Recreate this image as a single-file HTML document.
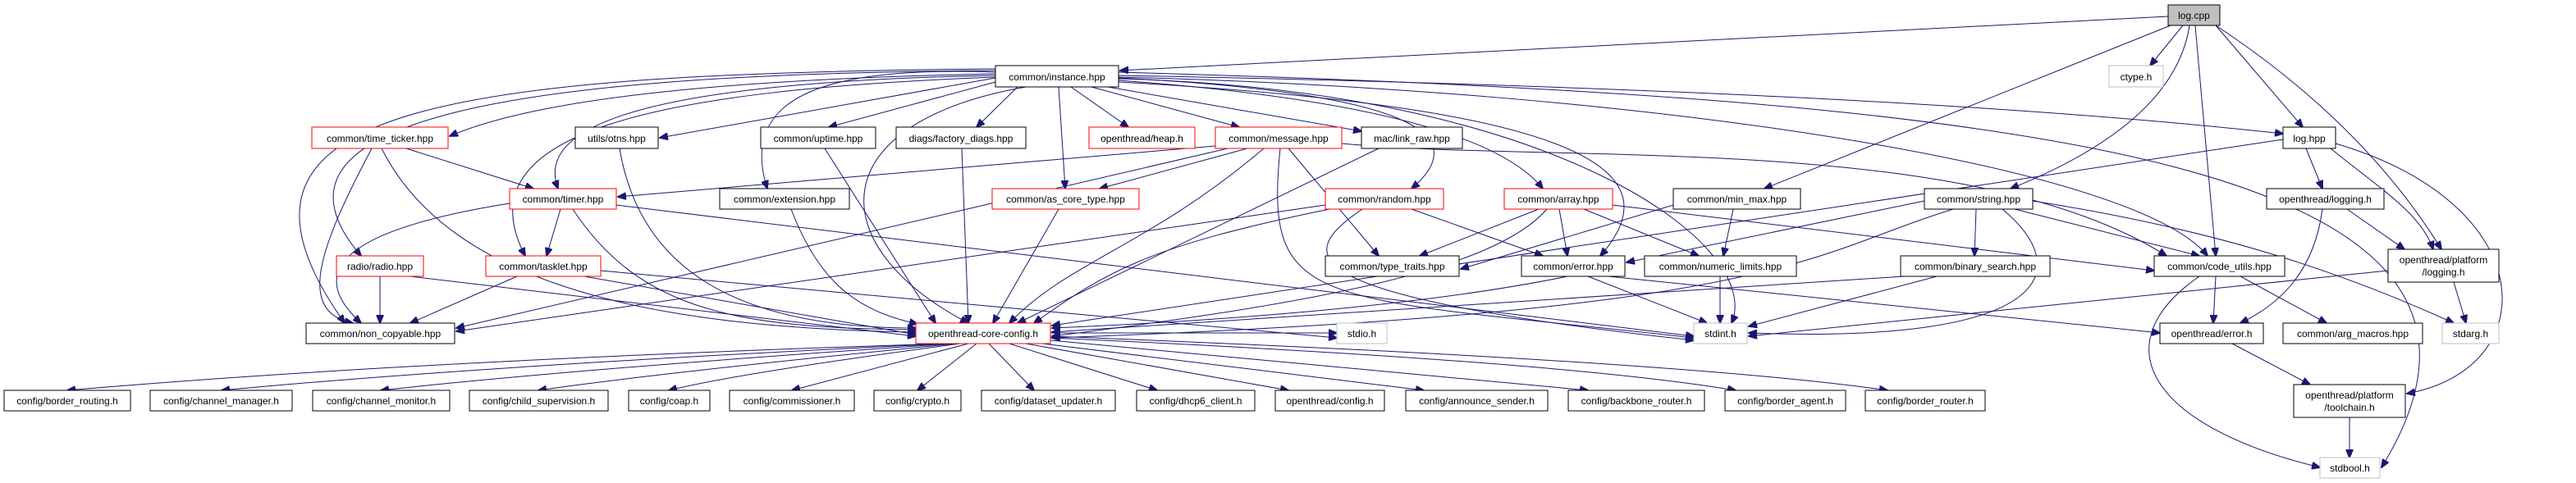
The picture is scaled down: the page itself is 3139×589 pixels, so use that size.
<!DOCTYPE html>
<html><head><meta charset="utf-8"><style>
html,body{margin:0;padding:0;background:#fff;}
svg{display:block;}
text{font-family:"Liberation Sans",sans-serif;font-size:12px;fill:#000;}
.n{fill:#fff;stroke:#000;stroke-width:1}
.r{fill:#fff;stroke:#ff0000;stroke-width:1}
.g{fill:#fff;stroke:#bfbfbf;stroke-width:1}
path{fill:none;stroke:#191970;stroke-width:1}
</style></head><body>
<svg width="3139" height="589" viewBox="0 0 3139 589" xmlns="http://www.w3.org/2000/svg">
<defs><marker id="a" markerWidth="11" markerHeight="9" refX="10" refY="4.5" orient="auto" markerUnits="userSpaceOnUse"><polygon points="0,0 11,4.5 0,9" fill="#191970" stroke="#191970"/></marker></defs>
<g marker-end="url(#a)">
<path d="M2642,20 L1365,86"/>
<path d="M2660,31 L2620,80"/>
<path d="M2700,31 L2806,155"/>
<path d="M2645,31 L2150,230"/>
<path d="M2668,31 Q2650,150 2450,230"/>
<path d="M2675,31 L2700,312"/>
<path d="M2700,31 Q2880,150 2975,304"/>
<path d="M1213,90 Q700,100 548,166"/>
<path d="M1213,95 L804,168"/>
<path d="M1213,100 L1010,155"/>
<path d="M1240,106 L1190,155"/>
<path d="M1305,106 L1375,155"/>
<path d="M1330,106 L1510,155"/>
<path d="M1350,106 L1659,160"/>
<path d="M1290,106 L1298,230"/>
<path d="M1363,95 Q1850,120 1720,230"/>
<path d="M1363,98 Q1800,130 1880,230"/>
<path d="M1363,100 C1900,130 2050,200 1950,312"/>
<path d="M1363,92 Q2300,110 2782,163"/>
<path d="M1363,96 C1900,110 2150,300 2110,394"/>
<path d="M1363,94 C2000,110 2600,200 2690,312"/>
<path d="M1363,88 C2500,120 3130,200 2902,570"/>
<path d="M1213,88 C1000,80 900,120 935,230"/>
<path d="M1213,92 C800,100 650,150 680,230"/>
<path d="M1213,94 C800,110 560,160 640,312"/>
<path d="M1213,86 C600,90 300,150 440,312"/>
<path d="M1213,84 C500,90 240,140 420,394"/>
<path d="M1250,106 C1000,150 1000,300 1180,394"/>
<path d="M495,181 L650,230"/>
<path d="M453,181 C390,300 360,380 430,394"/>
<path d="M465,181 C550,350 800,400 1116,405"/>
<path d="M755,181 C780,330 900,400 1116,400"/>
<path d="M1005,181 L1140,394"/>
<path d="M1172,181 L1180,394"/>
<path d="M964,255 C1000,350 1050,380 1118,395"/>
<path d="M683,255 L666,312"/>
<path d="M621,248 C420,280 370,330 440,394"/>
<path d="M698,255 C780,380 900,400 1116,402"/>
<path d="M751,250 L2064,410"/>
<path d="M630,337 L500,394"/>
<path d="M712,337 L1116,408"/>
<path d="M732,330 L1629,412"/>
<path d="M463,337 L463,394"/>
<path d="M500,337 L1116,410"/>
<path d="M1481,178 L753,240"/>
<path d="M1520,181 L1340,230"/>
<path d="M1540,181 C1400,300 1300,320 1230,394"/>
<path d="M1496,181 L556,400"/>
<path d="M1570,181 L1680,312"/>
<path d="M1560,181 C1540,380 1600,360 2064,412"/>
<path d="M1635,175 C1900,200 2400,160 2640,312"/>
<path d="M1680,181 L1240,394"/>
<path d="M1290,255 L1210,394"/>
<path d="M1615,250 L556,404"/>
<path d="M1620,255 C1400,300 1350,330 1260,394"/>
<path d="M1660,255 C1580,310 1560,360 2064,415"/>
<path d="M1720,255 L1880,312"/>
<path d="M1875,255 L1730,312"/>
<path d="M1900,255 L1910,312"/>
<path d="M1930,255 L2070,312"/>
<path d="M1885,255 C1820,330 1600,370 1282,410"/>
<path d="M1965,250 L2625,330"/>
<path d="M2039,250 L1780,328"/>
<path d="M2112,255 L2100,312"/>
<path d="M2345,245 L1982,320"/>
<path d="M2408,255 L2406,312"/>
<path d="M2455,255 L2680,312"/>
<path d="M2380,255 C2200,310 2180,380 1282,412"/>
<path d="M2440,255 C2530,330 2500,420 2131,406"/>
<path d="M2477,245 C2700,280 2850,330 2990,394"/>
<path d="M1910,337 C1700,380 1400,395 1282,400"/>
<path d="M1935,337 L2080,394"/>
<path d="M1960,337 L2632,406"/>
<path d="M2096,337 L2096,394"/>
<path d="M2320,337 L1282,405"/>
<path d="M2360,337 L2131,398"/>
<path d="M2700,337 L2697,394"/>
<path d="M2730,337 L2835,394"/>
<path d="M2680,337 C2560,420 2620,520 2827,570"/>
<path d="M2810,181 L2830,230"/>
<path d="M2840,181 C2900,230 2950,260 2965,304"/>
<path d="M2846,175 C3100,250 3100,450 2933,480"/>
<path d="M2782,170 L1282,397"/>
<path d="M2860,255 L2930,304"/>
<path d="M2830,255 C2820,330 2780,370 2730,394"/>
<path d="M2990,344 L3005,394"/>
<path d="M2910,330 L2131,410"/>
<path d="M2720,419 L2815,469"/>
<path d="M2863,509 L2863,558"/>
<path d="M1280,406 L1629,406"/>
<path d="M1150,419 Q500,440 82,476"/>
<path d="M1155,419 Q600,445 270,476"/>
<path d="M1160,419 Q700,450 464,476"/>
<path d="M1165,419 Q800,455 656,476"/>
<path d="M1170,419 Q900,455 815,476"/>
<path d="M1180,419 L965,476"/>
<path d="M1190,419 L1118,476"/>
<path d="M1205,419 L1260,476"/>
<path d="M1230,419 L1410,476"/>
<path d="M1250,419 L1570,476"/>
<path d="M1270,419 L1735,476"/>
<path d="M1280,415 L1935,476"/>
<path d="M1280,412 Q1900,440 2115,476"/>
<path d="M1280,410 Q2050,440 2300,476"/>
</g>
<g>
<rect x="2642" y="6" width="63" height="25" fill="#bfbfbf" stroke="#000"/>
<rect class="g" x="2570" y="80" width="66" height="26"/>
<rect class="n" x="1213" y="80" width="150" height="26"/>
<rect class="r" x="380" y="155" width="166" height="26"/>
<rect class="n" x="701" y="155" width="101" height="26"/>
<rect class="n" x="927" y="155" width="140" height="26"/>
<rect class="n" x="1092" y="155" width="158" height="26"/>
<rect class="r" x="1327" y="155" width="129" height="26"/>
<rect class="r" x="1481" y="155" width="154" height="26"/>
<rect class="n" x="1659" y="155" width="123" height="26"/>
<rect class="n" x="2782" y="155" width="64" height="26"/>
<rect class="r" x="621" y="230" width="130" height="25"/>
<rect class="n" x="877" y="230" width="158" height="25"/>
<rect class="r" x="1209" y="230" width="179" height="25"/>
<rect class="r" x="1615" y="230" width="144" height="25"/>
<rect class="r" x="1833" y="230" width="132" height="25"/>
<rect class="n" x="2039" y="230" width="155" height="25"/>
<rect class="n" x="2345" y="230" width="132" height="25"/>
<rect class="n" x="2762" y="230" width="143" height="25"/>
<rect class="r" x="410" y="312" width="106" height="25"/>
<rect class="r" x="592" y="312" width="140" height="25"/>
<rect class="n" x="1615" y="312" width="163" height="25"/>
<rect class="n" x="1854" y="312" width="126" height="25"/>
<rect class="n" x="2004" y="312" width="185" height="25"/>
<rect class="n" x="2316" y="312" width="182" height="25"/>
<rect class="n" x="2625" y="312" width="159" height="25"/>
<rect class="n" x="2910" y="304" width="135" height="40"/>
<rect class="n" x="373" y="394" width="181" height="25"/>
<rect class="r" x="1116" y="394" width="164" height="25"/>
<rect class="g" x="1629" y="394" width="61" height="25"/>
<rect class="g" x="2064" y="394" width="65" height="25"/>
<rect class="n" x="2632" y="394" width="126" height="25"/>
<rect class="n" x="2782" y="394" width="170" height="25"/>
<rect class="g" x="2976" y="394" width="69" height="25"/>
<rect class="n" x="5" y="476" width="154" height="25"/>
<rect class="n" x="183" y="476" width="173" height="25"/>
<rect class="n" x="381" y="476" width="167" height="25"/>
<rect class="n" x="572" y="476" width="169" height="25"/>
<rect class="n" x="766" y="476" width="99" height="25"/>
<rect class="n" x="889" y="476" width="152" height="25"/>
<rect class="n" x="1065" y="476" width="106" height="25"/>
<rect class="n" x="1196" y="476" width="163" height="25"/>
<rect class="n" x="1385" y="476" width="144" height="25"/>
<rect class="n" x="1554" y="476" width="133" height="25"/>
<rect class="n" x="1713" y="476" width="173" height="25"/>
<rect class="n" x="1911" y="476" width="166" height="25"/>
<rect class="n" x="2102" y="476" width="147" height="25"/>
<rect class="n" x="2273" y="476" width="146" height="25"/>
<rect class="n" x="2795" y="469" width="136" height="40"/>
<rect class="g" x="2827" y="558" width="73" height="25"/>
</g>
<g text-anchor="middle" transform="translate(0,1)">
<text x="2673.5" y="22">log.cpp</text>
<text x="2603" y="97">ctype.h</text>
<text x="1288" y="97">common/instance.hpp</text>
<text x="463" y="172">common/time_ticker.hpp</text>
<text x="751.5" y="172">utils/otns.hpp</text>
<text x="997" y="172">common/uptime.hpp</text>
<text x="1171" y="172">diags/factory_diags.hpp</text>
<text x="1391.5" y="172">openthread/heap.h</text>
<text x="1558" y="172">common/message.hpp</text>
<text x="1720.5" y="172">mac/link_raw.hpp</text>
<text x="2814" y="172">log.hpp</text>
<text x="686" y="246">common/timer.hpp</text>
<text x="956" y="246">common/extension.hpp</text>
<text x="1298.5" y="246">common/as_core_type.hpp</text>
<text x="1687" y="246">common/random.hpp</text>
<text x="1899" y="246">common/array.hpp</text>
<text x="2116.5" y="246">common/min_max.hpp</text>
<text x="2411" y="246">common/string.hpp</text>
<text x="2833.5" y="246">openthread/logging.h</text>
<text x="463" y="328">radio/radio.hpp</text>
<text x="662" y="328">common/tasklet.hpp</text>
<text x="1696.5" y="328">common/type_traits.hpp</text>
<text x="1917" y="328">common/error.hpp</text>
<text x="2096.5" y="328">common/numeric_limits.hpp</text>
<text x="2407" y="328">common/binary_search.hpp</text>
<text x="2704.5" y="328">common/code_utils.hpp</text>
<text x="2977.5" y="320">openthread/platform</text><text x="2977.5" y="335">/logging.h</text>
<text x="463.5" y="410">common/non_copyable.hpp</text>
<text x="1198" y="410">openthread-core-config.h</text>
<text x="1659.5" y="410">stdio.h</text>
<text x="2096.5" y="410">stdint.h</text>
<text x="2695" y="410">openthread/error.h</text>
<text x="2867" y="410">common/arg_macros.hpp</text>
<text x="3010.5" y="410">stdarg.h</text>
<text x="82" y="492">config/border_routing.h</text>
<text x="269.5" y="492">config/channel_manager.h</text>
<text x="464.5" y="492">config/channel_monitor.h</text>
<text x="656.5" y="492">config/child_supervision.h</text>
<text x="815.5" y="492">config/coap.h</text>
<text x="965" y="492">config/commissioner.h</text>
<text x="1118" y="492">config/crypto.h</text>
<text x="1277.5" y="492">config/dataset_updater.h</text>
<text x="1457" y="492">config/dhcp6_client.h</text>
<text x="1620.5" y="492">openthread/config.h</text>
<text x="1799.5" y="492">config/announce_sender.h</text>
<text x="1994" y="492">config/backbone_router.h</text>
<text x="2175.5" y="492">config/border_agent.h</text>
<text x="2346" y="492">config/border_router.h</text>
<text x="2863" y="485">openthread/platform</text><text x="2863" y="500">/toolchain.h</text>
<text x="2863.5" y="574">stdbool.h</text>
</g>
</svg>
</body></html>
